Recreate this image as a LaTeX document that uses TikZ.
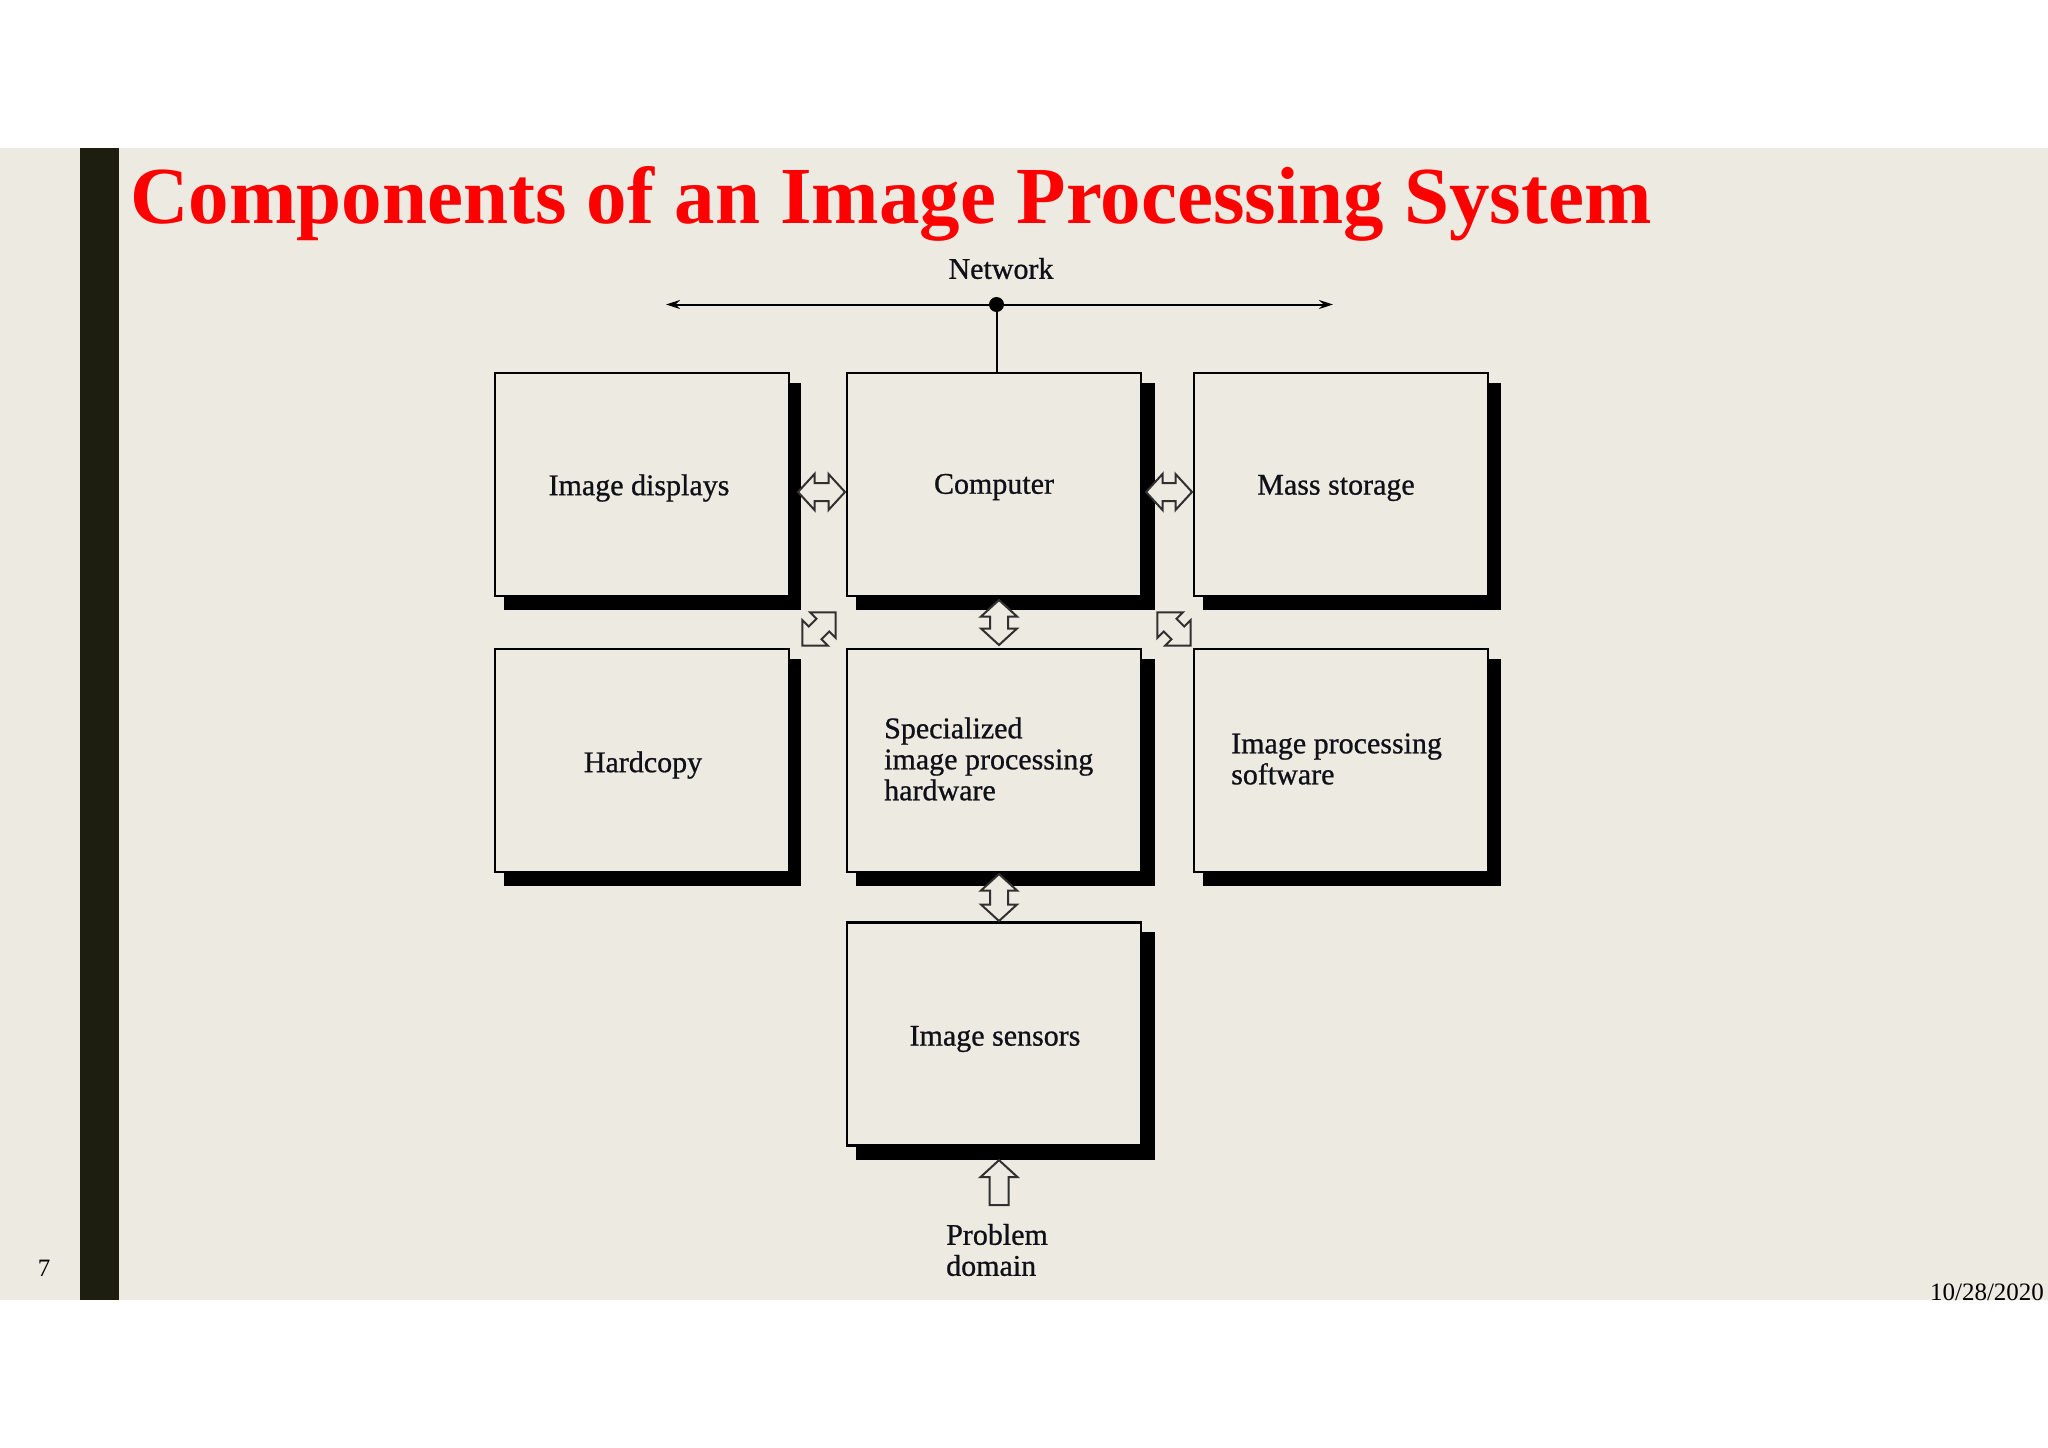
\documentclass[tikz,border=0pt]{standalone}
\usepackage{fontspec}
\setmainfont{Liberation Serif}
\newfontfamily\labfont[FakeBold=0.8]{Liberation Serif}
\usetikzlibrary{shapes.arrows,arrows.meta,calc}
\pgfdeclarelayer{back}\pgfdeclarelayer{shade}
\pgfsetlayers{back,shade,main}
\definecolor{slidebg}{HTML}{EDEAE2}
\definecolor{barcol}{HTML}{1E1E10}
\definecolor{inkcol}{HTML}{101018}
\definecolor{arrowcol}{HTML}{303030}
\tikzset{
  x=1pt,y=-1pt,
  box/.style={draw=black,line width=2.2pt,fill=slidebg,minimum width=294pt,minimum height=223pt,inner sep=0pt},
  lab/.style={font=\labfont\fontsize{30}{31}\selectfont,text=inkcol,inner sep=0pt,align=left},
  dbl/.style={double arrow,draw=arrowcol,line width=2pt,fill=slidebg,inner sep=8pt,minimum width=35pt,double arrow head extend=9pt,double arrow tip angle=95},
  sgl/.style={single arrow,draw=arrowcol,line width=2pt,fill=slidebg,inner sep=8.5pt,minimum width=35pt,single arrow head extend=9pt,single arrow tip angle=95},
  netline/.style={line width=2pt,draw=black}
}
\begin{document}
\begin{tikzpicture}
\useasboundingbox (0,0) rectangle (2048,1448);
\begin{pgfonlayer}{back}
\fill[white] (0,0) rectangle (2048,1448);
\fill[slidebg] (0,148) rectangle (2048,1300);
\fill[barcol] (80,148) rectangle (119,1300);
\end{pgfonlayer}
\node[anchor=base west,inner sep=0pt,font=\bfseries\fontsize{81}{81}\selectfont,text={rgb,255:red,255;green,0;blue,0}] (title) at (130,223) {Components of an Image Processing System};
% boxes
\node[box] (disp) at (642,484.5) {};
\node[box] (comp) at (994,484.5) {};
\node[box] (mass) at (1341,484.5) {};
\node[box] (hard) at (642,760.5) {};
\node[box] (spec) at (994,760.5) {};
\node[box] (soft) at (1341,760.5) {};
\node[box] (sens) at (994,1034) {};
\begin{pgfonlayer}{shade}
\foreach \n/\d in {disp/11,comp/13,mass/12,hard/11,spec/13,soft/12,sens/13}
  \fill[black] ([xshift=10pt,yshift=-13pt]\n.south west) rectangle ([xshift=\d pt,yshift=-11pt]\n.north east);
\end{pgfonlayer}
% labels
\node[lab] (l1) at (639,488) {Image displays};
\node[lab] (l2) at (994,487) {Computer};
\node[lab] (l3) at (1336,488) {Mass storage};
\node[lab] (l4) at (643,765) {Hardcopy};
\node[lab,anchor=west] (l5) at (884,759) {Specialized\\image processing\\hardware};
\node[lab,anchor=west] (l6) at (1231,759) {Image processing\\software};
\node[lab] (l7) at (995,1039) {Image sensors};
\node[lab,anchor=west] (l8) at (946,1250) {Problem\\domain};
% network
\node[lab] (net) at (1001,268.5) {Network};
\coordinate (nl) at (666,304.5);
\coordinate (nr) at (1333,304.5);
\node[circle,fill=black,minimum size=15pt,inner sep=0pt] (dot) at (996.5,304.5) {};
\draw[netline,{Stealth[length=14pt,width=9pt]}-{Stealth[length=14pt,width=9pt]}] (nl) -- (nr);
\draw[netline] (dot) -- (dot |- comp.north);
% block arrows
\node[dbl,minimum height=47pt] (a1) at (821.5,492) {};
\node[dbl,minimum height=46pt] (a2) at (1169,492) {};
\node[dbl,minimum height=45pt,rotate=90] (a3) at (999,622.5) {};
\node[dbl,minimum height=47pt,rotate=90] (a4) at (999,897.5) {};
\node[dbl,minimum height=47pt,double arrow tip angle=90,rotate=45] (a5) at (819,629) {};
\node[dbl,minimum height=47pt,double arrow tip angle=90,rotate=-45] (a6) at (1174,629) {};
\node[sgl,minimum height=45pt,rotate=90] (a7) at (999,1187) {};
% footer
\node[inner sep=0pt,font=\fontsize{25}{25}\selectfont] (pg) at (44,1268) {7};
\node[inner sep=0pt,font=\fontsize{25}{25}\selectfont] (dt) at (1987,1292) {10/28/2020};
\end{tikzpicture}
\end{document}
